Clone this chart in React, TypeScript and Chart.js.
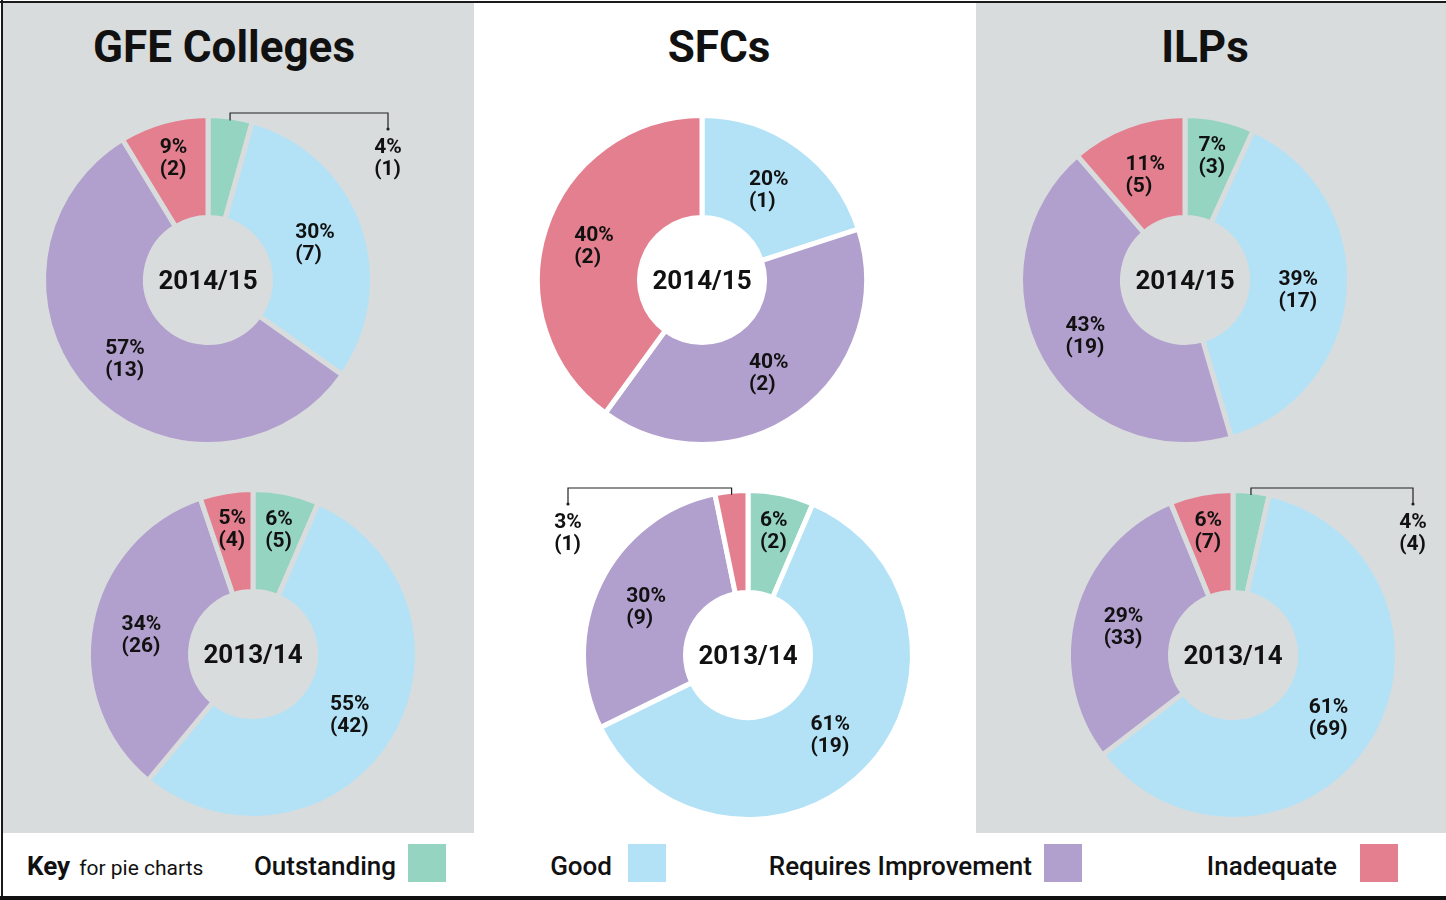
import React, { useEffect, useRef } from 'react';
import { Chart, registerables } from 'chart.js';

Chart.register(...registerables);

// ---------- DATA ----------
const CATEGORIES = ['Outstanding', 'Good', 'Requires Improvement', 'Inadequate'];
const COLORS = ['#95d4c1', '#b3e2f7', '#b19fcd', '#e37f8f'];

const PANEL_TITLES = ['GFE Colleges', 'SFCs', 'ILPs'];
const YEARS = ['2014/15', '2013/14'];

const GFE_1415_COUNTS = [1, 7, 13, 2];
const GFE_1415_PCTS = [4, 30, 57, 9];
const GFE_1314_COUNTS = [5, 42, 26, 4];
const GFE_1314_PCTS = [6, 55, 34, 5];

const SFC_1415_COUNTS = [0, 1, 2, 2];
const SFC_1415_PCTS = [0, 20, 40, 40];
const SFC_1314_COUNTS = [2, 19, 9, 1];
const SFC_1314_PCTS = [6, 61, 30, 3];

const ILP_1415_COUNTS = [3, 17, 19, 5];
const ILP_1415_PCTS = [7, 39, 43, 11];
const ILP_1314_COUNTS = [4, 69, 33, 7];
const ILP_1314_PCTS = [4, 61, 29, 6];

// ---------- STYLE ----------
const GRAY = '#d9dcdd';
const WHITE = '#ffffff';
const FONT = "Roboto, 'DejaVu Sans', sans-serif";
const CW = 440;
const CH = 372;
const GAP = 5;
const VIS_R = 162;
const VIS_r = 65;

type Spec = {
  counts: number[];
  pcts: number[];
  year: string;
  cx: number;
  cy: number;
  bg: string;
};

const SPECS: Spec[] = [
  { counts: GFE_1415_COUNTS, pcts: GFE_1415_PCTS, year: YEARS[0], cx: 208, cy: 280, bg: GRAY },
  { counts: GFE_1314_COUNTS, pcts: GFE_1314_PCTS, year: YEARS[1], cx: 253, cy: 654, bg: GRAY },
  { counts: SFC_1415_COUNTS, pcts: SFC_1415_PCTS, year: YEARS[0], cx: 702, cy: 280, bg: WHITE },
  { counts: SFC_1314_COUNTS, pcts: SFC_1314_PCTS, year: YEARS[1], cx: 748, cy: 655, bg: WHITE },
  { counts: ILP_1415_COUNTS, pcts: ILP_1415_PCTS, year: YEARS[0], cx: 1185, cy: 280, bg: GRAY },
  { counts: ILP_1314_COUNTS, pcts: ILP_1314_PCTS, year: YEARS[1], cx: 1233, cy: 655, bg: GRAY },
];

function drawBlock(ctx: CanvasRenderingContext2D, lines: string[], cx: number, cy: number) {
  ctx.font = `bold 21px ${FONT}`;
  const w = Math.max(...lines.map((l) => ctx.measureText(l).width));
  const left = cx - w / 2;
  ctx.textAlign = 'left';
  ctx.textBaseline = 'alphabetic';
  ctx.fillStyle = '#111111';
  ctx.fillText(lines[0], left, cy - 3.5);
  ctx.fillText(lines[1], left, cy + 18.5);
}

function makeLabelPlugin(spec: Spec) {
  return {
    id: 'sliceLabels',
    afterDatasetsDraw(chart: any) {
      const ctx: CanvasRenderingContext2D = chart.ctx;
      const meta = chart.getDatasetMeta(0);
      ctx.save();
      meta.data.forEach((arc: any, i: number) => {
        const count = spec.counts[i];
        if (!count) return;
        const p = arc.getProps(['x', 'y', 'startAngle', 'endAngle', 'innerRadius', 'outerRadius'], true);
        const mid = (p.startAngle + p.endAngle) / 2;
        const R = p.outerRadius - GAP / 2;
        const r = p.innerRadius + GAP / 2;
        const pct = spec.pcts[i];
        const lines = [`${pct}%`, `(${count})`];
        if (pct < 5) {
          const side = Math.cos(mid) >= 0 ? 1 : -1;
          const ax = p.x + Math.cos(mid) * R;
          const ay = p.y + Math.sin(mid) * R;
          const lineY = p.y - R - 5;
          const ex = p.x + side * 180;
          ctx.strokeStyle = '#222222';
          ctx.lineWidth = 1.2;
          ctx.beginPath();
          ctx.moveTo(ax, ay + 1);
          ctx.lineTo(ax, lineY);
          ctx.lineTo(ex, lineY);
          ctx.lineTo(ex, lineY + 16);
          ctx.stroke();
          ctx.fillStyle = '#222222';
          ctx.beginPath();
          ctx.arc(ex, lineY + 16, 1.6, 0, Math.PI * 2);
          ctx.fill();
          drawBlock(ctx, lines, ex, lineY + 43);
        } else {
          const frac = pct < 10 ? 0.65 : 0.5;
          const lr = r + frac * (R - r);
          drawBlock(ctx, lines, p.x + Math.cos(mid) * lr, p.y + Math.sin(mid) * lr);
        }
      });
      // center year label
      const a0 = meta.data[0];
      ctx.font = `bold 26px ${FONT}`;
      ctx.textAlign = 'center';
      ctx.textBaseline = 'alphabetic';
      ctx.fillStyle = '#111111';
      ctx.fillText(spec.year, a0.x, a0.y + 9);
      ctx.restore();
    },
  };
}

function Doughnut({ spec }: { spec: Spec }) {
  const ref = useRef<HTMLCanvasElement>(null);
  useEffect(() => {
    const chart = new Chart(ref.current as HTMLCanvasElement, {
      type: 'doughnut',
      data: {
        labels: CATEGORIES,
        datasets: [
          {
            data: spec.counts,
            backgroundColor: COLORS,
            borderColor: spec.bg,
            borderWidth: GAP,
            borderAlign: 'center',
            borderJoinStyle: 'miter',
            hoverOffset: 0,
          } as any,
        ],
      },
      options: {
        animation: false,
        responsive: false,
        devicePixelRatio: 1,
        radius: VIS_R + GAP / 2,
        cutout: `${((VIS_r - GAP / 2) / (VIS_R + GAP / 2)) * 100}%`,
        layout: { padding: 0 },
        events: [],
        plugins: {
          legend: { display: false },
          tooltip: { enabled: false },
        },
      } as any,
      plugins: [makeLabelPlugin(spec)],
    });
    return () => chart.destroy();
  }, [spec]);
  return (
    <canvas
      ref={ref}
      width={CW}
      height={CH}
      style={{ position: 'absolute', left: spec.cx - CW / 2, top: spec.cy - CH / 2, width: CW, height: CH }}
    />
  );
}

const titleCenters = [224, 719, 1205];

const keyItems = [
  { right: 396, swatch: 408 },
  { right: 612, swatch: 628 },
  { right: 1032, swatch: 1044 },
  { right: 1337, swatch: 1360 },
];

export default function App() {
  return (
    <div
      style={{
        position: 'absolute',
        left: 0,
        top: 0,
        width: 1446,
        height: 900,
        overflow: 'hidden',
        background: '#ffffff',
        fontFamily: FONT,
      }}
    >
      {/* panels */}
      <div style={{ position: 'absolute', left: 3, top: 3, width: 471, height: 830, background: GRAY }} />
      <div style={{ position: 'absolute', left: 976, top: 3, width: 470, height: 830, background: GRAY }} />
      {/* frame */}
      <div style={{ position: 'absolute', left: 0, top: 1, width: 1446, height: 2, background: '#1a1a1a' }} />
      <div style={{ position: 'absolute', left: 1, top: 0, width: 2, height: 900, background: '#1a1a1a' }} />
      <div style={{ position: 'absolute', left: 0, top: 896, width: 1446, height: 4, background: '#111111' }} />

      {PANEL_TITLES.map((t, i) => (
        <div
          key={t}
          style={{
            position: 'absolute',
            left: titleCenters[i] - 200,
            top: 25,
            width: 400,
            textAlign: 'center',
            fontSize: 44,
            lineHeight: '44px',
            fontWeight: 700,
            color: '#111111',
            whiteSpace: 'nowrap',
          }}
        >
          {t}
        </div>
      ))}

      {SPECS.map((s, i) => (
        <Doughnut key={i} spec={s} />
      ))}

      {/* key */}
      <div
        style={{
          position: 'absolute',
          left: 27,
          top: 853,
          fontSize: 26,
          lineHeight: '26px',
          whiteSpace: 'nowrap',
          color: '#111111',
        }}
      >
        <span style={{ fontWeight: 700 }}>Key</span>
        <span style={{ fontSize: 21, marginLeft: 9 }}>for pie charts</span>
      </div>
      {CATEGORIES.map((c, i) => (
        <React.Fragment key={c}>
          <div
            style={{
              position: 'absolute',
              right: 1446 - keyItems[i].right,
              top: 853,
              fontSize: 26,
              lineHeight: '26px',
              fontWeight: 500,
              color: '#111111',
              whiteSpace: 'nowrap',
            }}
          >
            {c}
          </div>
          <div
            style={{
              position: 'absolute',
              left: keyItems[i].swatch,
              top: 844,
              width: 38,
              height: 38,
              background: COLORS[i],
            }}
          />
        </React.Fragment>
      ))}
    </div>
  );
}
